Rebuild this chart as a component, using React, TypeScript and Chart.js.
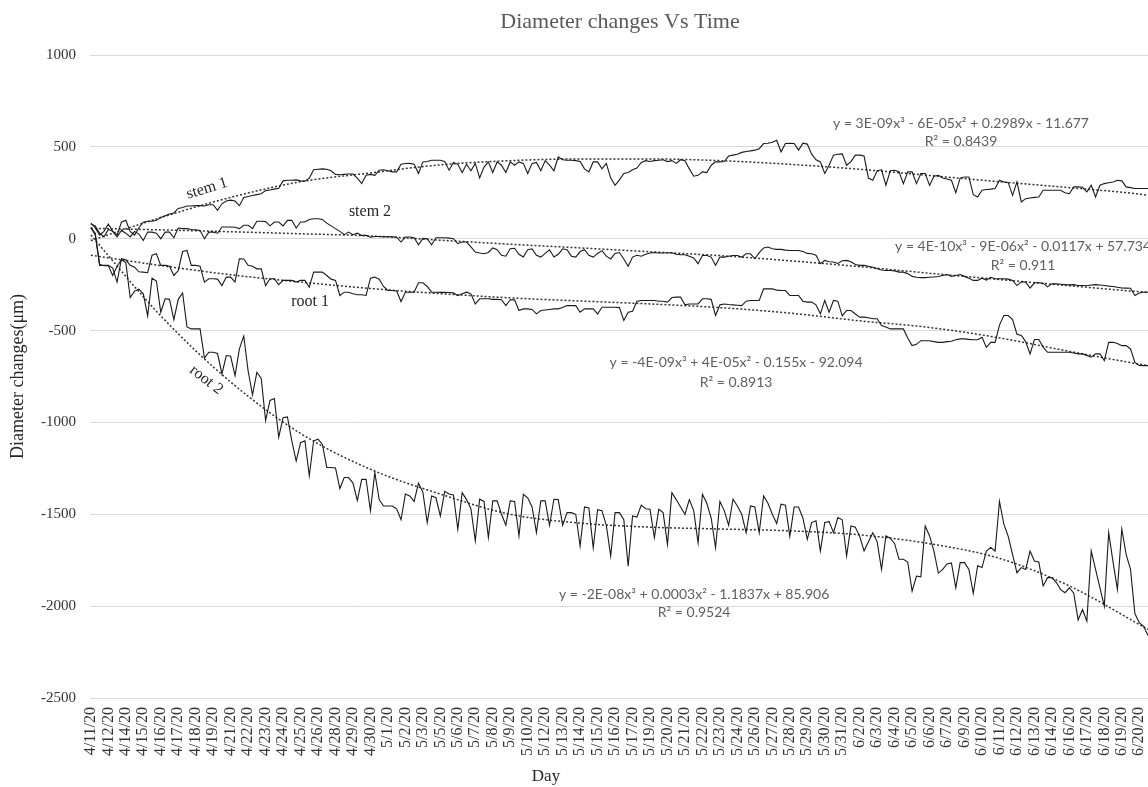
import React, { useEffect, useRef } from "react";
import { Chart, registerables } from "chart.js";

Chart.register(...registerables);

// ---------- data ----------
const chartTitle = "Diameter changes Vs Time";
const xAxisTitle = "Day";
const yAxisTitle = "Diameter changes(\u03bcm)";

// category labels shown on the axis (4 samples between two labels)
const dateLabels = [
  "4/11/20", "4/12/20", "4/14/20", "4/15/20", "4/16/20", "4/17/20", "4/18/20", "4/19/20", "4/21/20", "4/22/20",
  "4/23/20", "4/24/20", "4/25/20", "4/26/20", "4/28/20", "4/29/20", "4/30/20", "5/1/20", "5/2/20", "5/3/20",
  "5/5/20", "5/6/20", "5/7/20", "5/8/20", "5/9/20", "5/10/20", "5/12/20", "5/13/20", "5/14/20", "5/15/20",
  "5/16/20", "5/17/20", "5/19/20", "5/20/20", "5/21/20", "5/22/20", "5/23/20", "5/24/20", "5/26/20", "5/27/20",
  "5/28/20", "5/29/20", "5/30/20", "5/31/20", "6/2/20", "6/3/20", "6/4/20", "6/5/20", "6/6/20", "6/7/20",
  "6/9/20", "6/10/20", "6/11/20", "6/12/20", "6/13/20", "6/14/20", "6/16/20", "6/17/20", "6/18/20", "6/19/20",
  "6/20/20",
];
const SAMPLES_PER_LABEL = 4;

const stem1 = [
  85, 60, 20, 40, 80, 40, 20, 90, 100, 40,
  20, 60, 90, 95, 95, 100, 115, 125, 135, 140,
  165, 170, 178, 178, 180, 180, 178, 185, 185, 155,
  190, 205, 210, 205, 180, 225, 230, 235, 240, 245,
  262, 265, 270, 275, 315, 318, 318, 320, 315, 313,
  330, 375, 378, 380, 378, 370, 350, 348, 350, 352,
  352, 330, 300, 345, 350, 345, 373, 375, 370, 364,
  364, 405, 409, 410, 405, 355, 418, 420, 427, 427,
  427, 420, 373, 415, 405, 360, 405, 370, 410, 331,
  390, 418, 360, 418, 400, 360, 418, 400, 418, 410,
  355, 410, 415, 370, 425, 400, 370, 445, 430, 427,
  427, 425, 420, 380, 364, 418, 418, 380, 410, 330,
  291, 320, 355, 360, 375, 385, 415, 425, 420, 425,
  427, 430, 420, 425, 410, 430, 425, 380, 340, 345,
  364, 360, 400, 418, 418, 420, 450, 455, 460, 470,
  475, 478, 482, 490, 518, 520, 525, 536, 473, 518,
  520, 518, 482, 520, 515, 460, 430, 418, 355, 400,
  455, 460, 462, 400, 420, 455, 455, 450, 330, 318,
  370, 375, 291, 370, 373, 365, 300, 364, 364, 300,
  355, 355, 290, 340, 345, 330, 325, 318, 250, 330,
  336, 336, 240, 227, 264, 268, 270, 273, 318, 309,
  305, 236, 309, 200, 218, 222, 225, 227, 264, 264,
  264, 264, 264, 250, 245, 282, 282, 280, 255, 291,
  227, 291, 300, 305, 309, 318, 315, 282, 278, 273,
  273, 273, 273,
];

const stem2 = [
  80, 70, 30, 10, 50, 40, 10, 45, 30, 10,
  40, 25, -10, 36, 36, 30, 0, 36, 36, 5,
  58, 55, 55, 50, 48, 45, 0, 36, 36, 30,
  64, 64, 64, 62, 55, 73, 73, 55, 95, 95,
  93, 70, 91, 91, 70, 100, 100, 58, 91, 91,
  105, 109, 109, 105, 85, 70, 55, 40, 22, 36,
  22, 30, 18, 18, 8, 12, 12, 10, 12, 10,
  8, -18, 9, 9, 5, -33, 2, 0, -33, 5,
  5, 5, 3, 0, -27, -18, -18, -45, -73, -78,
  -82, -75, -50, -60, -90, -95, -55, -52, -85, -100,
  -60, -55, -90, -100, -80, -60, -100, -85, -55, -60,
  -95, -100, -70, -60, -90, -100, -80, -65, -95, -110,
  -80, -75, -110, -150, -100, -90, -95, -85, -78, -75,
  -78, -78, -76, -76, -85, -87, -87, -95, -105, -136,
  -91, -91, -100, -145, -100, -100, -95, -91, -91, -100,
  -82, -82, -109, -76, -50, -45, -55, -58, -58, -62,
  -64, -64, -64, -70, -80, -82, -90, -136, -118, -125,
  -127, -135, -120, -118, -125, -140, -145, -145, -150, -155,
  -164, -170, -173, -173, -175, -182, -182, -190, -205, -210,
  -212, -212, -210, -208, -206, -200, -195, -205, -200, -195,
  -205, -215, -227, -227, -215, -225, -210, -218, -218, -218,
  -220, -227, -255, -235, -236, -269, -240, -240, -242, -262,
  -245, -246, -248, -250, -251, -250, -255, -255, -256, -252,
  -250, -252, -255, -258, -260, -264, -268, -269, -270, -309,
  -295, -291, -291,
];

const root1 = [
  60, 20, -145, -145, -145, -160, -236, -109, -115, -145,
  -155, -180, -182, -185, -90, -82, -145, -145, -150, -200,
  -173, -70, -64, -145, -145, -150, -236, -218, -218, -220,
  -255, -209, -209, -236, -109, -110, -145, -150, -164, -164,
  -255, -218, -218, -250, -227, -227, -227, -236, -227, -227,
  -264, -182, -182, -182, -200, -220, -227, -309, -291, -291,
  -300, -305, -305, -309, -215, -209, -220, -260, -282, -282,
  -285, -342, -291, -291, -291, -240, -240, -260, -291, -291,
  -292, -292, -293, -295, -310, -300, -291, -300, -355, -327,
  -327, -327, -330, -330, -332, -364, -332, -333, -391, -382,
  -382, -385, -409, -391, -388, -385, -382, -382, -375, -364,
  -364, -364, -400, -382, -382, -382, -410, -373, -373, -373,
  -373, -375, -445, -400, -395, -340, -336, -336, -336, -336,
  -340, -340, -345, -320, -318, -318, -360, -355, -355, -355,
  -327, -327, -330, -418, -360, -355, -358, -360, -362, -364,
  -340, -336, -336, -336, -273, -273, -273, -280, -282, -282,
  -309, -309, -309, -340, -345, -345, -360, -409, -336, -400,
  -336, -340, -420, -391, -391, -410, -427, -427, -430, -436,
  -436, -473, -480, -491, -491, -491, -491, -540, -582, -575,
  -555, -555, -555, -560, -564, -564, -560, -558, -550, -545,
  -545, -548, -550, -550, -536, -591, -564, -564, -470, -418,
  -418, -440, -520, -527, -560, -627, -549, -549, -590, -618,
  -618, -618, -618, -618, -618, -622, -627, -627, -635, -645,
  -627, -627, -664, -564, -564, -570, -582, -582, -600, -673,
  -690, -691, -691,
];

const root2 = [
  60, 30, -140, -147, -147, -200, -150, -115, -130, -320,
  -285, -275, -300, -420, -215, -230, -400, -327, -330, -440,
  -330, -295, -480, -491, -491, -491, -650, -618, -618, -625,
  -736, -636, -640, -745, -600, -530, -720, -850, -727, -760,
  -990, -880, -870, -1080, -975, -970, -1100, -1210, -1110, -1100,
  -1290, -1100, -1091, -1120, -1245, -1245, -1248, -1360, -1300, -1300,
  -1330, -1425, -1310, -1309, -1480, -1273, -1420, -1455, -1455, -1455,
  -1470, -1530, -1390, -1400, -1430, -1330, -1380, -1545, -1400, -1410,
  -1509, -1375, -1390, -1395, -1582, -1382, -1420, -1470, -1645, -1418,
  -1430, -1627, -1427, -1427, -1500, -1560, -1427, -1430, -1618, -1391,
  -1410, -1460, -1600, -1427, -1427, -1560, -1418, -1420, -1560, -1491,
  -1491, -1500, -1673, -1460, -1465, -1682, -1475, -1480, -1560, -1727,
  -1491, -1491, -1530, -1782, -1509, -1515, -1450, -1470, -1473, -1627,
  -1473, -1491, -1664, -1382, -1420, -1460, -1500, -1420, -1480, -1655,
  -1391, -1440, -1520, -1682, -1430, -1480, -1560, -1418, -1455, -1500,
  -1600, -1455, -1460, -1600, -1400, -1440, -1500, -1550, -1445, -1450,
  -1620, -1460, -1460, -1520, -1636, -1545, -1535, -1700, -1545, -1540,
  -1600, -1518, -1530, -1727, -1563, -1570, -1620, -1700, -1650, -1600,
  -1650, -1800, -1618, -1630, -1660, -1745, -1745, -1760, -1918, -1836,
  -1840, -1564, -1618, -1700, -1820, -1800, -1770, -1765, -1900, -1763,
  -1763, -1800, -1930, -1780, -1790, -1700, -1680, -1700, -1430, -1554,
  -1620, -1720, -1818, -1790, -1800, -1700, -1754, -1760, -1890, -1845,
  -1845, -1870, -1910, -1927, -1900, -1930, -2075, -2018, -2082, -1700,
  -1800, -1900, -2000, -1600, -1760, -1909, -1580, -1720, -1800, -2040,
  -2090, -2110, -2160,
];

// polynomial trend lines at every 4th axis label
const trendLabelIdx = [0, 4, 8, 12, 16, 20, 24, 28, 32, 36, 40, 44, 48, 52, 56, 60, 60.5];
const stem1Trend = [-10, 115, 225, 310, 358, 402, 425, 434, 434, 425, 405, 378, 344, 310, 278, 243, 236];
const stem2Trend = [57, 48, 38, 27, 15, -8, -30, -50, -71, -92, -120, -152, -188, -222, -256, -288, -291];
const root1Trend = [-90, -146, -196, -236, -271, -299, -322, -339, -355, -375, -405, -447, -483, -540, -613, -683, -691];
const root2Trend = [20, -420, -780, -1060, -1255, -1390, -1500, -1548, -1570, -1580, -1590, -1612, -1660, -1740, -1890, -2100, -2127];

// in-chart labels (data coordinates: sample index, value)
const seriesNames = ["stem 1", "stem 2", "root 1", "root 2"];
const nameX = [26.6, 63.9, 50.2, 26.4];
const nameY = [273, 147, -344, -769];
const nameAngle = [-17, 0, 0, 38];

const equations = [
  "y = 3E-09x\u00b3 - 6E-05x\u00b2 + 0.2989x - 11.677",
  "y = 4E-10x\u00b3 - 9E-06x\u00b2 - 0.0117x + 57.734",
  "y = -4E-09x\u00b3 + 4E-05x\u00b2 - 0.155x - 92.094",
  "y = -2E-08x\u00b3 + 0.0003x\u00b2 - 1.1837x + 85.906",
];
const rSquared = ["R\u00b2 = 0.8439", "R\u00b2 = 0.911", "R\u00b2 = 0.8913", "R\u00b2 = 0.9524"];
const eqX = [199.2, 213.4, 147.7, 138.1];
const eqY = [627, -44, -671, -1936];
const r2Y = [529, -147, -780, -2034];

const SERIF = '"Liberation Serif", "Times New Roman", serif';
const SANS = 'Lato, "Open Sans", sans-serif';

const textPlugin = {
  id: "chartTexts",
  afterDraw(chart: any) {
    const { ctx, scales } = chart;
    const xs = scales.x;
    const ys = scales.y;
    ctx.save();
    ctx.textAlign = "center";
    ctx.textBaseline = "middle";

    ctx.fillStyle = "#595959";
    ctx.font = `22px ${SERIF}`;
    ctx.fillText(chartTitle, 620, 22);

    ctx.fillStyle = "#262626";
    ctx.font = `17px ${SERIF}`;
    ctx.fillText(xAxisTitle, 546, 777);

    ctx.font = `16px ${SERIF}`;
    ctx.fillStyle = "#262626";
    seriesNames.forEach((name, i) => {
      const px = xs.getPixelForValue(nameX[i]);
      const py = ys.getPixelForValue(nameY[i]);
      ctx.save();
      ctx.translate(px, py);
      ctx.rotate((nameAngle[i] * Math.PI) / 180);
      ctx.fillText(name, 0, 0);
      ctx.restore();
    });

    ctx.font = `14px ${SANS}`;
    ctx.fillStyle = "#5f5f5f";
    equations.forEach((eq, i) => {
      const px = xs.getPixelForValue(eqX[i]);
      ctx.fillText(eq, px, ys.getPixelForValue(eqY[i]));
      ctx.fillText(rSquared[i], px, ys.getPixelForValue(r2Y[i]));
    });
    ctx.restore();
  },
};

export default function App() {
  const ref = useRef<HTMLCanvasElement>(null);

  useEffect(() => {
    if (!ref.current) return;
    const toPts = (arr: number[]) => arr.map((v, i) => ({ x: i, y: v }));
    const trendPts = (arr: number[]) =>
      arr.map((v, i) => ({ x: trendLabelIdx[i] * SAMPLES_PER_LABEL, y: v }));
    const dataLine = (label: string, arr: number[]) => ({
      label,
      data: toPts(arr),
      borderColor: "#1a1a1a",
      borderWidth: 1.1,
      pointRadius: 0,
      tension: 0,
      fill: false,
    });
    const trendLine = (label: string, arr: number[]) => ({
      label,
      data: trendPts(arr),
      borderColor: "#333333",
      borderWidth: 1.5,
      borderDash: [2, 2],
      pointRadius: 0,
      cubicInterpolationMode: "monotone",
      fill: false,
    });

    const chart = new Chart(ref.current, {
      type: "line",
      data: {
        datasets: [
          dataLine("stem 1", stem1),
          dataLine("stem 2", stem2),
          dataLine("root 1", root1),
          dataLine("root 2", root2),
          trendLine("stem 1 trend", stem1Trend),
          trendLine("stem 2 trend", stem2Trend),
          trendLine("root 1 trend", root1Trend),
          trendLine("root 2 trend", root2Trend),
        ] as any,
      },
      options: {
        animation: false,
        responsive: false,
        devicePixelRatio: 1,
        layout: { padding: { top: 55, left: 0, right: 0, bottom: 0 } },
        plugins: {
          legend: { display: false },
          tooltip: { enabled: false },
          title: { display: false },
        },
        scales: {
          x: {
            type: "linear",
            min: -0.2,
            max: 242,
            grid: { display: false, drawTicks: false },
            border: { display: false },
            afterBuildTicks: (s: any) => {
              s.ticks = dateLabels.map((_, i) => ({ value: i * SAMPLES_PER_LABEL }));
            },
            afterFit: (s: any) => {
              s.height = 89;
              s.paddingLeft = 0;
              s.paddingRight = 0;
            },
            ticks: {
              autoSkip: false,
              maxRotation: 90,
              minRotation: 90,
              padding: 9,
              color: "#333333",
              font: { family: SERIF, size: 16 },
              callback: (_v: any, i: number) => dateLabels[i],
            },
          },
          y: {
            min: -2500,
            max: 1000,
            ticks: {
              stepSize: 500,
              padding: 14,
              color: "#333333",
              font: { family: SERIF, size: 15 },
              callback: (v: any) => String(v),
            },
            grid: { color: "#d9d9d9", lineWidth: 1, drawTicks: false },
            border: { display: false },
            title: {
              display: true,
              text: yAxisTitle,
              color: "#262626",
              font: { family: SERIF, size: 18 },
              padding: { top: 7, bottom: 0 },
            },
            afterFit: (s: any) => {
              s.width = 90;
              s.paddingTop = 0;
              s.paddingBottom = 0;
            },
          },
        },
      } as any,
      plugins: [textPlugin],
    });
    return () => chart.destroy();
  }, []);

  return (
    <div
      style={{
        position: "fixed",
        left: 0,
        top: 0,
        width: 1148,
        height: 787,
        overflow: "hidden",
        background: "#ffffff",
      }}
    >
      <canvas ref={ref} width={1148} height={787} />
    </div>
  );
}
